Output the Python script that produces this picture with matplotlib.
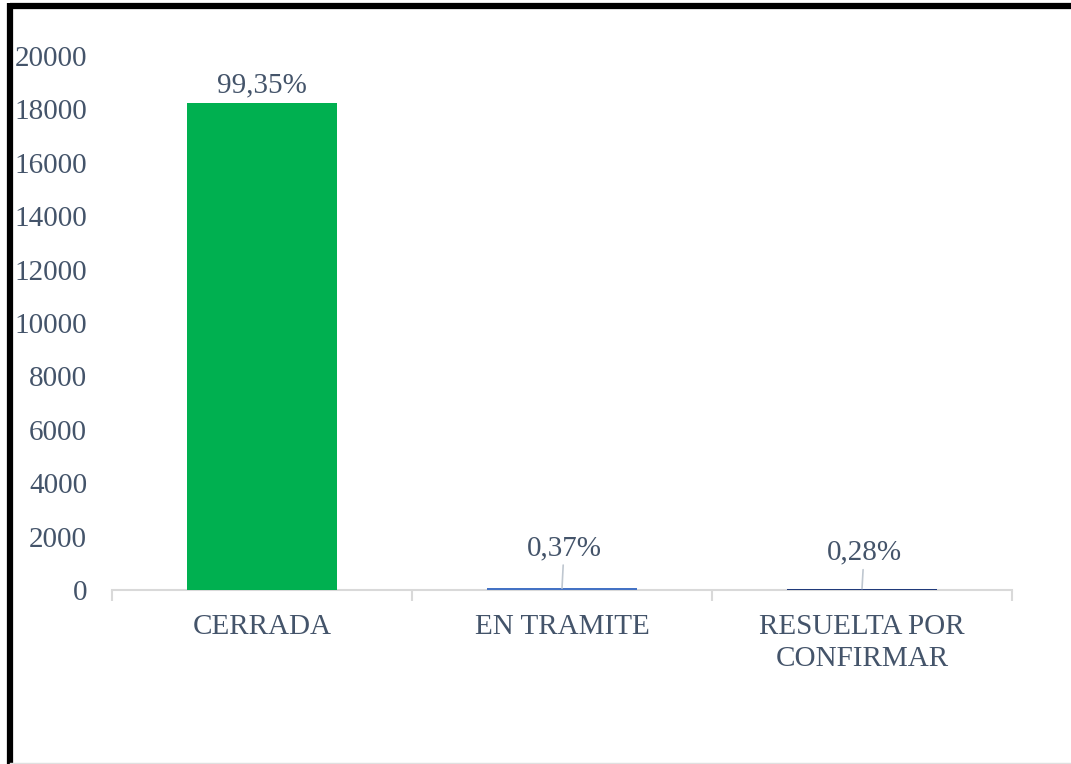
import matplotlib
matplotlib.use("Agg")
import matplotlib.pyplot as plt
from matplotlib.lines import Line2D

categories = ["CERRADA", "EN TRAMITE", "RESUELTA POR\nCONFIRMAR"]
values = [18240, 68, 51]
pct_labels = ["99,35%", "0,37%", "0,28%"]
bar_colors = ["#00B050", "#4472C4", "#203A7A"]
yticks = [0, 2000, 4000, 6000, 8000, 10000, 12000, 14000, 16000, 18000, 20000]

txt = "#44546A"
plt.rcParams["font.family"] = ["Liberation Serif", "DejaVu Serif"]

fig = plt.figure(figsize=(10.71, 7.64), dpi=100)
ax = fig.add_axes([112/1071, (764-590)/764, 900/1071, 534/764])

x = list(range(len(categories)))
ax.bar(x, values, width=0.5, color=bar_colors, zorder=3)
ax.set_xlim(-0.5, 2.5)
ax.set_ylim(0, 20000)
ax.set_yticks(yticks)
ax.set_yticklabels([str(v) for v in yticks], fontsize=21, color=txt)
ax.tick_params(axis="y", length=0, pad=18)
ax.set_xticks(x)
ax.set_xticklabels(categories, fontsize=21, color=txt, linespacing=1.3)
ax.tick_params(axis="x", which="major", length=0, pad=17)
ax.set_xticks([-0.5, 0.5, 1.5, 2.5], minor=True)
ax.tick_params(axis="x", which="minor", length=8, width=1.5, color="#D9D9D9")
for s in ["top", "right", "left"]:
    ax.spines[s].set_visible(False)
ax.spines["bottom"].set_color("#D9D9D9")
ax.spines["bottom"].set_linewidth(1.5)
ax.set_facecolor("none")

# data labels
ax.annotate(pct_labels[0], xy=(x[0], values[0]), xytext=(0, 3),
            textcoords="offset points", ha="center", va="bottom",
            fontsize=21, color=txt)
offsets = {1: (1.5, 29), 2: (1.5, 26)}
for i in (1, 2):
    ax.annotate(pct_labels[i], xy=(x[i], values[i]), xytext=offsets[i],
                textcoords="offset points", ha="center", va="center",
                fontsize=21, color=txt,
                arrowprops=dict(arrowstyle="-", color="#BFC7D0", lw=1.2,
                                shrinkA=1, shrinkB=0))

# frame lines
fig.add_artist(Line2D([10/1071, 1], [1-6/764, 1-6/764], transform=fig.transFigure,
                      color="black", lw=4.5, solid_capstyle="butt"))
fig.add_artist(Line2D([10/1071, 10/1071], [0, 1-3/764], transform=fig.transFigure,
                      color="black", lw=4.5, solid_capstyle="butt"))
fig.add_artist(Line2D([10/1071, 1], [1/764, 1/764], transform=fig.transFigure,
                      color="#E0E0E0", lw=1))

fig.savefig("out.png", dpi=100)
